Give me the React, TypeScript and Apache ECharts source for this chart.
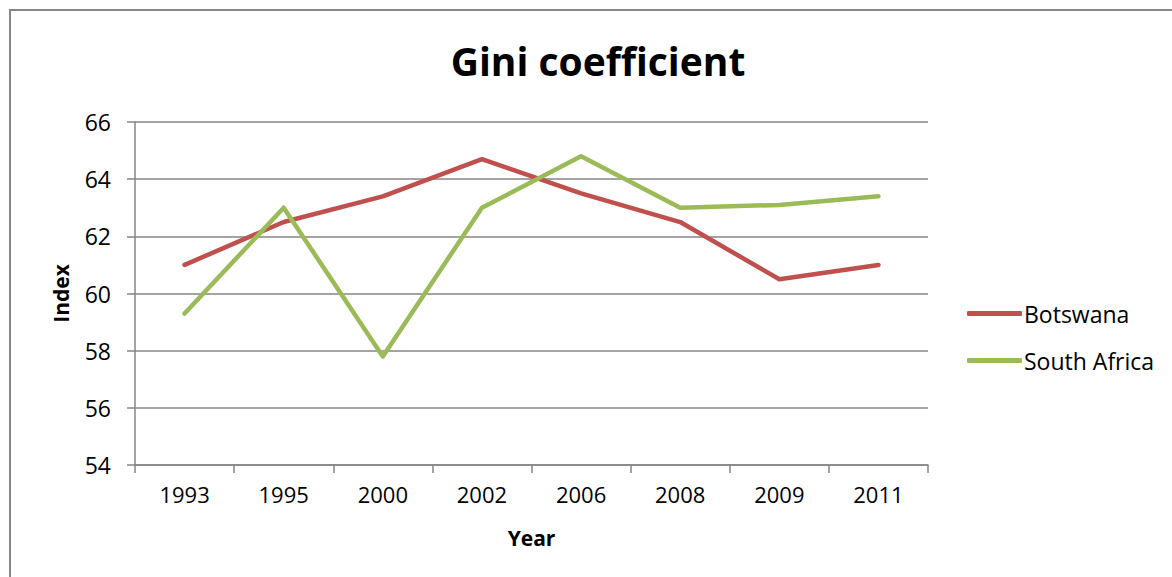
import React, { useEffect, useRef } from "react";
import * as echarts from "echarts";

const years = ["1993", "1995", "2000", "2002", "2006", "2008", "2009", "2011"];
const botswana = [61.0, 62.5, 63.4, 64.7, 63.5, 62.5, 60.5, 61.0];
const southAfrica = [59.3, 63.0, 57.8, 63.0, 64.8, 63.0, 63.1, 63.4];
const yTicks = { min: 54, max: 66, interval: 2 };

const FONT = "'Open Sans', 'Noto Sans', sans-serif";

export default function App() {
  const ref = useRef<HTMLDivElement>(null);

  useEffect(() => {
    if (!ref.current) return;
    const chart = echarts.init(ref.current, null, { renderer: "svg" });
    chart.setOption({
      animation: false,
      backgroundColor: "#ffffff",
      textStyle: { fontFamily: FONT, color: "#000" },
      title: {
        text: "Gini coefficient",
        left: 593,
        top: 36,
        textAlign: "center",
        textStyle: { fontFamily: FONT, fontSize: 39, fontWeight: "bold", color: "#000" },
      },
      graphic: [
        {
          type: "rect",
          shape: { x: 10, y: 10, width: 1200, height: 620 },
          style: { fill: "none", stroke: "#868686", lineWidth: 2 },
          silent: true,
        },
      ],
      legend: {
        orient: "vertical",
        left: 967,
        top: 302,
        padding: 0,
        itemWidth: 55,
        itemHeight: 5,
        itemGap: 24,
        icon: "roundRect",
        textStyle: { fontFamily: FONT, fontSize: 23, color: "#000", padding: [0, 0, 0, -3] },
        data: ["Botswana", "South Africa"],
      },
      grid: { left: 135, right: 244, top: 122, bottom: 112, containLabel: false },
      xAxis: {
        type: "category",
        data: years,
        boundaryGap: true,
        name: "Year",
        nameLocation: "middle",
        nameGap: 62,
        nameTextStyle: { fontFamily: FONT, fontSize: 21, fontWeight: "bold", color: "#000" },
        axisLine: { lineStyle: { color: "#868686", width: 1.5 } },
        axisTick: { show: true, length: 8, alignWithLabel: false, lineStyle: { color: "#868686", width: 1.5 } },
        axisLabel: { fontFamily: FONT, fontSize: 22, color: "#000", margin: 18 },
        splitLine: { show: false },
      },
      yAxis: {
        type: "value",
        min: yTicks.min,
        max: yTicks.max,
        interval: yTicks.interval,
        name: "Index",
        nameLocation: "middle",
        nameGap: 64,
        nameTextStyle: { fontFamily: FONT, fontSize: 21, fontWeight: "bold", color: "#000" },
        axisLine: { show: true, lineStyle: { color: "#868686", width: 1.5 } },
        axisTick: { show: true, length: 8, lineStyle: { color: "#868686", width: 1.5 } },
        axisLabel: { fontFamily: FONT, fontSize: 23, color: "#000", margin: 24 },
        splitLine: { show: true, lineStyle: { color: "#868686", width: 1.5 } },
      },
      series: [
        {
          name: "Botswana",
          type: "line",
          data: botswana,
          symbol: "none",
          color: "#C0504D",
          lineStyle: { width: 4.5, color: "#C0504D", cap: "round", join: "round" },
        },
        {
          name: "South Africa",
          type: "line",
          data: southAfrica,
          symbol: "none",
          color: "#9BBB59",
          lineStyle: { width: 4.5, color: "#9BBB59", cap: "round", join: "round" },
        },
      ],
    });
    return () => chart.dispose();
  }, []);

  return (
    <div
      ref={ref}
      style={{ position: "fixed", left: 0, top: 0, width: 1172, height: 577 }}
    />
  );
}
